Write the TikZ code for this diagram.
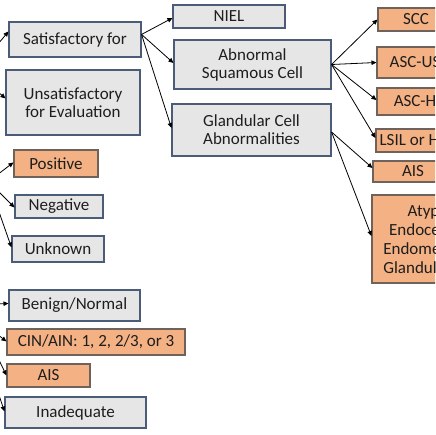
\documentclass[tikz,border=0pt]{standalone}
\usepackage{fontspec}
\setmainfont{Carlito}
\usetikzlibrary{arrows.meta}
\definecolor{gfill}{HTML}{E7E6E6}
\definecolor{gline}{HTML}{4A5C78}
\definecolor{ofill}{HTML}{F4B183}
\definecolor{oline}{HTML}{6E625A}
\definecolor{txt}{HTML}{1E1E1E}
\tikzset{
  box/.style={line width=1.1pt, inner sep=0pt, align=center, text=txt,
    font=\fontsize{17}{18}\selectfont},
  gbox/.style={box, draw=gline, fill=gfill},
  obox/.style={box, draw=oline, fill=ofill},
  arr/.style={draw=black, line width=0.8pt, -{Triangle[length=5pt,width=4.5pt]}}
}
\begin{document}
\begin{tikzpicture}[x=1pt,y=-1pt]
\useasboundingbox (0,0) rectangle (435,435);
\clip (0,0) rectangle (435,435);
% left column
\node[gbox, minimum width=132pt, minimum height=35pt] (sat) at (75,39.5) {Satisfactory for};
\node[gbox, minimum width=134pt, minimum height=65pt] (unsat) at (73,102.5) {Unsatisfactory\\for Evaluation};
\node[obox, minimum width=84pt, minimum height=27pt] (pos) at (56,163.5) {Positive};
\node[gbox, minimum width=88pt, minimum height=23pt] (neg) at (59,206.5) {Negative};
\node[gbox, minimum width=92pt, minimum height=26pt] (unk) at (58,249) {Unknown};
\node[gbox, minimum width=131pt, minimum height=31pt] (benign) at (74.5,305.5) {Benign/Normal};
\node[obox, minimum width=178pt, minimum height=26pt] (cin) at (96,342) {CIN/AIN: 1, 2, 2/3, or 3};
\node[obox, minimum width=83pt, minimum height=23pt] (aisl) at (48.5,375.5) {AIS};
\node[gbox, minimum width=141pt, minimum height=31pt] (inad) at (75.5,412.5) {Inadequate};
% middle column
\node[gbox, minimum width=112pt, minimum height=23pt] (niel) at (229,16.5) {NIEL};
\node[gbox, minimum width=157pt, minimum height=49pt] (asc) at (252.5,64.5) {Abnormal\\Squamous Cell};
\node[gbox, minimum width=159pt, minimum height=52pt] (gland) at (251.5,130) {Glandular Cell\\Abnormalities};
% right column
\node[obox, minimum width=76pt, minimum height=23pt] (scc) at (416,19.5) {SCC};
\node[obox, minimum width=76pt, minimum height=31pt] (ascus) at (415,62.5) {ASC-US};
\node[obox, minimum width=76pt, minimum height=27pt] (asch) at (415,101.5) {ASC-H};
\node[obox, minimum width=86pt, minimum height=23pt] (lsil) at (419,140.5) {LSIL or HSIL};
\node[obox, minimum width=80pt, minimum height=21pt] (aisr) at (413,171.5) {AIS};
\node[obox, minimum width=126pt, minimum height=88pt, font=\fontsize{17}{19}\selectfont] (atyp) at (435,239) {Atypical\\Endocervical,\\Endometrial or\\Glandular Cells};
% free ends of incoming connectors (outside the picture)
\coordinate (inSat) at (-3,45.3);
\coordinate (inUnsat) at (-3,91);
\coordinate (inPos) at (-3,175);
\coordinate (inNeg) at (-3,190);
\coordinate (inUnk) at (-2,209);
\coordinate (inBen) at (-3,304);
\coordinate (inCin) at (-3,334);
\coordinate (inAisl) at (-2,358);
\coordinate (inInad) at (-2,392);
\draw[arr] (inSat) -- ([yshift=-10pt]sat.north west);
\draw[arr] (inUnsat) -- ([yshift=-29pt]unsat.north west);
\draw[arr] (inPos) -- ([yshift=-13pt]pos.north west);
\draw[arr] (inNeg) -- ([yshift=-13pt]neg.north west);
\draw[arr] (inUnk) -- ([yshift=-12pt]unk.north west);
\draw[arr] (inBen) -- ([yshift=-14pt]benign.north west);
\draw[arr] (inCin) -- ([yshift=-13pt]cin.north west);
\draw[arr] (inAisl) -- ([yshift=-12pt]aisl.north west);
\draw[arr] (inInad) -- ([yshift=-15pt]inad.north west);
% outgoing connectors
\draw[arr] ([yshift=-13pt]sat.north east) -- ([yshift=-1.5pt]niel.west);
\draw[arr] ([yshift=-13pt]sat.north east) -- ([yshift=1.5pt]asc.west);
\draw[arr] ([yshift=-13pt]sat.north east) -- ([yshift=2pt]gland.west);
\draw[arr] (asc.east) -- (scc.west);
\draw[arr] (asc.east) -- (ascus.west);
\draw[arr] (asc.east) -- ([yshift=1.5pt]asch.west);
\draw[arr] (asc.east) -- ([yshift=2.5pt]lsil.west);
\draw[arr] ([yshift=-2pt]gland.east) -- ([yshift=3.5pt]aisr.west);
\draw[arr] ([yshift=-2pt]gland.east) -- ([yshift=3pt]atyp.west);
\end{tikzpicture}
\end{document}
